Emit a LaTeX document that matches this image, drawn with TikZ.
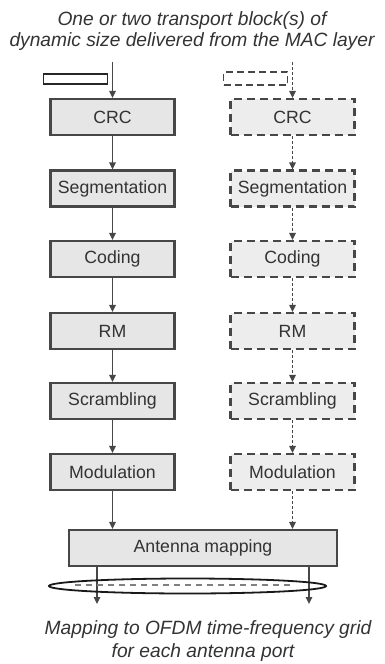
\documentclass[tikz,border=0pt]{standalone}
\usepackage{fontspec}
\setmainfont{Liberation Sans}
\usetikzlibrary{arrows.meta,shapes.geometric}
\definecolor{txt}{HTML}{333333}
\definecolor{edge}{HTML}{474747}
\definecolor{boxfill}{HTML}{E6E6E6}
\definecolor{dboxfill}{HTML}{EDEDED}
\tikzset{
  procbox/.style={draw=edge, line width=2.2pt, fill=boxfill, text=txt,
    minimum width=124pt, minimum height=36pt, inner sep=0pt,
    font=\fontsize{17.7}{20}\selectfont},
  dprocbox/.style={procbox, fill=dboxfill, dash pattern=on 8pt off 5pt},
  arr/.style={draw=edge, line width=1.2pt, -{Triangle[length=7pt,width=6.5pt]}},
  darr/.style={arr, dash pattern=on 3pt off 2pt},
  caption/.style={text=txt, anchor=base, inner sep=0pt,
    font=\fontsize{19.2}{22}\selectfont\itshape}
}
\begin{document}
\begin{tikzpicture}[x=1pt,y=-1pt]
\useasboundingbox (0,0) rectangle (385,664);
% title
\node[caption] (t1) at (192,25) {One or two transport block(s) of};
\node[caption] (t2) at (192,46) {dynamic size delivered from the MAC layer};
% transport blocks
\node[draw=black!85, line width=1.8pt, fill=white, minimum width=64pt, minimum height=10pt, inner sep=0pt] (tb1) at (75.5,79) {};
\node[draw=edge, line width=1.8pt, fill=white, dash pattern=on 7pt off 4pt, minimum width=64pt, minimum height=13pt, inner sep=0pt] (tb2) at (255.5,78.5) {};
\coordinate (in1) at (112.5,62);
\coordinate (in2) at (292.5,62);
% left column
\node[procbox] (c1) at (112.5,117) {CRC};
\node[procbox] (s1) at (112.5,188.5) {Segmentation};
\node[procbox] (k1) at (112.5,259) {Coding};
\node[procbox] (r1) at (112.5,331) {RM};
\node[procbox] (x1) at (112.5,401) {Scrambling};
\node[procbox] (m1) at (112.5,472) {Modulation};
% right column
\node[dprocbox] (c2) at (292.5,117) {CRC};
\node[dprocbox] (s2) at (292.5,188.5) {Segmentation};
\node[dprocbox] (k2) at (292.5,259) {Coding};
\node[dprocbox] (r2) at (292.5,331) {RM};
\node[dprocbox] (x2) at (292.5,401) {Scrambling};
\node[dprocbox] (m2) at (292.5,472) {Modulation};
% antenna mapping
\node[procbox, minimum width=268pt] (ant) at (203,548) {Antenna mapping};
% arrows left
\draw[arr] (in1) -- (c1.north);
\draw[arr] (c1) -- (s1);
\draw[arr] (s1) -- (k1);
\draw[arr] (k1) -- (r1);
\draw[arr] (r1) -- (x1);
\draw[arr] (x1) -- (m1);
\draw[arr] (m1.south) -- (m1.south |- ant.north);
% arrows right
\draw[darr] (in2) -- (c2.north);
\draw[darr] (c2) -- (s2);
\draw[darr] (s2) -- (k2);
\draw[darr] (k2) -- (r2);
\draw[darr] (r2) -- (x2);
\draw[darr] (x2) -- (m2);
\draw[darr] (m2.south) -- (m2.south |- ant.north);
% outputs
\coordinate (o1) at (97,604);
\coordinate (o2) at (309,604);
\draw[arr] (ant.south -| o1) -- (o1);
\draw[arr] (ant.south -| o2) -- (o2);
\node[draw=black!90, line width=1.8pt, ellipse, minimum width=277pt, minimum height=15pt, inner sep=0pt] (ell) at (187.5,586) {};
\coordinate (dl) at (75,585);
\coordinate (dr) at (290,585);
\draw[draw=black!50, line width=2pt, dash pattern=on 6pt off 5pt] (dl) -- (dr);
% bottom caption
\node[caption] (b1) at (208,634) {Mapping to OFDM time-frequency grid};
\node[caption] (b2) at (203,657) {for each antenna port};
\end{tikzpicture}
\end{document}
